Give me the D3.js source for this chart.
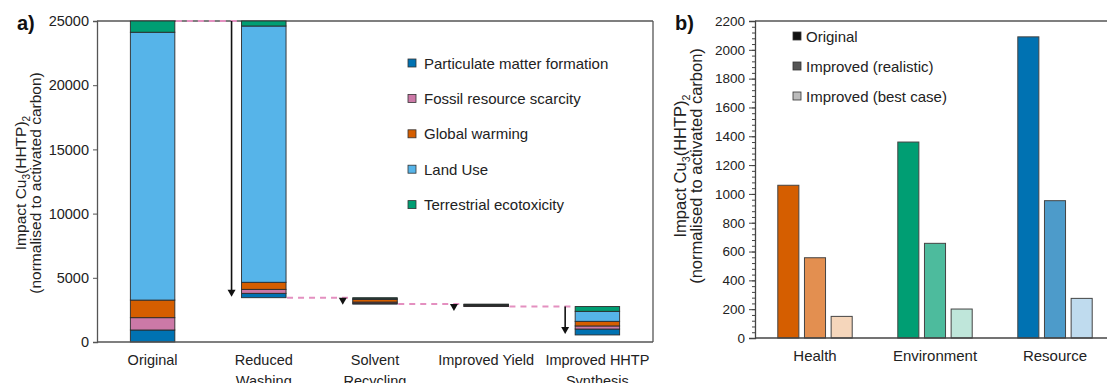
<!DOCTYPE html>
<html>
<head>
<meta charset="utf-8">
<script src="https://cdn.jsdelivr.net/npm/d3@7"></script>
<style>
  body { margin: 0; background: #fff; }
  svg { font-family: "Liberation Sans", Arial, sans-serif; display: block; }
</style>
</head>
<body>
<div id="chart"></div>
<script>
// ----- Data: panel a (waterfall of stacked impacts) -----
const steps = ["Original", "Reduced Washing", "Solvent Recycling", "Improved Yield", "Improved HHTP Synthesis"];
const stepLabels = [["Original"], ["Reduced", "Washing"], ["Solvent", "Recycling"], ["Improved Yield"], ["Improved HHTP", "Synthesis"]];
const impactCats = ["Particulate matter formation", "Fossil resource scarcity", "Global warming", "Land Use", "Terrestrial ecotoxicity"];
const stepBase = [0, 3450, 2950, 2760, 550];
const particulate = [935, 340, 70, 30, 460];
const fossil = [960, 310, 90, 30, 240];
const warming = [1370, 550, 200, 60, 360];
const landUse = [20860, 19960, 60, 40, 780];
const ecotox = [875, 390, 80, 30, 370];
const yTicksA = [0, 5000, 10000, 15000, 20000, 25000];

// ----- Data: panel b (grouped bars) -----
const groups = ["Health", "Environment", "Resource"];
const scenarios = ["Original", "Improved (realistic)", "Improved (best case)"];
const health = [1060, 557, 150];
const environment = [1360, 657, 201];
const resource = [2090, 953, 275];
const yTicksB = d3.range(0, 2201, 200);

const width = 1107;
const height = 383;
const svg = d3.select("#chart").append("svg")
  .attr("width", width)
  .attr("height", height);

const catColors = ["#0072b2", "#cc79a7", "#d55e00", "#56b4e9", "#009e73"];
const groupColors = [
  ["#d55e00", "#e38f50", "#f5d6bb"],
  ["#009e73", "#4dbb9d", "#bfe6da"],
  ["#0072b2", "#4d9bca", "#bfdbee"]
];

function yLabel(g, x, y, size) {
  const t = g.append("text")
    .attr("transform", `translate(${x}, ${y}) rotate(-90)`)
    .attr("text-anchor", "middle")
    .attr("font-size", size)
    .attr("fill", "#222");
  t.append("tspan").attr("x", 0).attr("dy", 0).text("Impact Cu");
  t.append("tspan").attr("dy", 4).attr("font-size", size * 0.65).text("3");
  t.append("tspan").attr("dy", -4).text("(HHTP)");
  t.append("tspan").attr("dy", 4).attr("font-size", size * 0.65).text("2");
  t.append("tspan").attr("x", 0).attr("dy", size * 0.92 - 4 + 1).text("(normalised to activated carbon)");
}

// ===== Panel a =====
function panelA() {
  const left = 97, right = 653, top = 21, bottom = 342;
  const g = svg.append("g");

  const x = d3.scaleBand().domain(steps).range([left, right]);
  const y = d3.scaleLinear().domain([0, 25000]).range([bottom, top]);
  const barW = x.bandwidth() * 0.4;
  const barX = s => x(s) + (x.bandwidth() - barW) / 2;

  const series = [particulate, fossil, warming, landUse, ecotox];
  const rows = steps.map((s, i) => {
    let acc = stepBase[i];
    const segs = series.map((arr, k) => {
      const seg = { step: s, cat: k, y0: acc, y1: acc + arr[i] };
      acc += arr[i];
      return seg;
    });
    return { step: s, base: stepBase[i], top: acc, segs };
  });

  // frame
  g.append("line").attr("x1", left).attr("x2", right).attr("y1", top).attr("y2", top)
    .attr("stroke", "#555").attr("stroke-width", 1.3);
  g.append("line").attr("x1", right).attr("x2", right).attr("y1", top).attr("y2", bottom)
    .attr("stroke", "#555").attr("stroke-width", 1.3);

  // dashed connectors
  for (let i = 0; i < rows.length - 1; i++) {
    const level = rows[i + 1].top;
    g.append("line")
      .attr("x1", barX(steps[i]) + barW + 1).attr("x2", barX(steps[i + 1]) - 1)
      .attr("y1", y(level)).attr("y2", y(level))
      .attr("stroke", "#e490c0").attr("stroke-width", 2)
      .attr("stroke-dasharray", "6,5");
  }

  // stacked bars
  g.selectAll(".seg")
    .data(rows.flatMap(r => r.segs))
    .enter().append("rect")
    .attr("class", "seg")
    .attr("x", d => barX(d.step))
    .attr("width", barW)
    .attr("y", d => y(d.y1))
    .attr("height", d => Math.max(0, y(d.y0) - y(d.y1)))
    .attr("fill", d => catColors[d.cat])
    .attr("stroke", "#2b2b2b")
    .attr("stroke-width", 0.9);

  // arrows showing the reduction
  rows.slice(1).forEach(r => {
    const ax = barX(r.step) - 10;
    const yTop = y(r.top);
    const yTip = y(r.base) - 1;
    const head = 7;
    if (yTip - head > yTop) {
      g.append("line").attr("x1", ax).attr("x2", ax)
        .attr("y1", yTop).attr("y2", yTip - head + 1)
        .attr("stroke", "#111").attr("stroke-width", 1.6);
    }
    const hy = Math.max(yTip, yTop + head);
    g.append("path")
      .attr("d", `M${ax - 4},${hy - head} L${ax + 4},${hy - head} L${ax},${hy} Z`)
      .attr("fill", "#111");
  });

  // axes
  const yAxis = g.append("g")
    .attr("transform", `translate(${left},0)`)
    .call(d3.axisLeft(y).tickValues(yTicksA).tickSize(4).tickPadding(4).tickFormat(d3.format("d")));
  yAxis.select(".domain").attr("stroke", "#555").attr("stroke-width", 1.3);
  yAxis.selectAll(".tick line").attr("stroke", "#555");
  yAxis.selectAll("text").attr("font-size", 14.5).attr("fill", "#222")
    .attr("font-family", "Liberation Sans, Arial, sans-serif");

  g.append("line").attr("x1", left).attr("x2", right).attr("y1", bottom).attr("y2", bottom)
    .attr("stroke", "#555").attr("stroke-width", 1.3);

  // category labels
  steps.forEach((s, i) => {
    const t = g.append("text")
      .attr("x", x(s) + x.bandwidth() / 2)
      .attr("y", 365)
      .attr("text-anchor", "middle")
      .attr("font-size", 14.5)
      .attr("fill", "#222");
    stepLabels[i].forEach((line, j) => {
      t.append("tspan").attr("x", x(s) + x.bandwidth() / 2).attr("dy", j === 0 ? 0 : 20.5).text(line);
    });
  });

  // legend
  const legend = g.append("g").attr("transform", "translate(408, 63)");
  const items = legend.selectAll(".legend-item")
    .data(impactCats)
    .enter().append("g")
    .attr("class", "legend-item")
    .attr("transform", (d, i) => `translate(0, ${i * 35.4})`);
  items.append("rect")
    .attr("x", 0).attr("y", -4).attr("width", 8).attr("height", 8)
    .attr("fill", (d, i) => catColors[i])
    .attr("stroke", "#333").attr("stroke-width", 0.8);
  items.append("text")
    .attr("x", 16).attr("y", 5.5)
    .attr("font-size", 15).attr("fill", "#222")
    .text(d => d);

  yLabel(g, 26, 183, 15.5);

  svg.append("text").attr("x", 17).attr("y", 29.5)
    .attr("font-size", 20).attr("font-weight", "bold").attr("fill", "#111").text("a)");
}

// ===== Panel b =====
function panelB() {
  const left = 755, right = 1115, top = 21, bottom = 338;
  const g = svg.append("g");

  const x = d3.scaleBand().domain(groups).range([left, right]);
  const xs = d3.scaleBand().domain(scenarios).range([0, 74.4]).paddingInner(0.21);
  const y = d3.scaleLinear().domain([0, 2200]).range([bottom, top]);
  const values = [health, environment, resource];

  g.append("line").attr("x1", left).attr("x2", width).attr("y1", top).attr("y2", top)
    .attr("stroke", "#555").attr("stroke-width", 1.3);

  const bars = groups.flatMap((grp, gi) =>
    scenarios.map((sc, si) => ({ grp, gi, sc, si, v: values[gi][si] })));

  g.selectAll(".bar")
    .data(bars)
    .enter().append("rect")
    .attr("class", "bar")
    .attr("x", d => x(d.grp) + x.bandwidth() / 2 - 37.2 + xs(d.sc))
    .attr("width", xs.bandwidth())
    .attr("y", d => y(d.v))
    .attr("height", d => y(0) - y(d.v))
    .attr("fill", d => groupColors[d.gi][d.si])
    .attr("stroke", "#444")
    .attr("stroke-width", 1);

  // minor ticks
  const minor = g.append("g")
    .attr("transform", `translate(${left},0)`)
    .call(d3.axisLeft(y).tickValues(d3.range(0, 2201, 40)).tickSize(3).tickFormat(""));
  minor.select(".domain").remove();
  minor.selectAll(".tick line").attr("stroke", "#444");

  const yAxis = g.append("g")
    .attr("transform", `translate(${left},0)`)
    .call(d3.axisLeft(y).tickValues(yTicksB).tickSize(6).tickPadding(4).tickFormat(d3.format("d")));
  yAxis.select(".domain").attr("stroke", "#444").attr("stroke-width", 1.3);
  yAxis.selectAll(".tick line").attr("stroke", "#444");
  yAxis.selectAll("text").attr("font-size", 13.5).attr("fill", "#222")
    .attr("font-family", "Liberation Sans, Arial, sans-serif");

  g.append("line").attr("x1", left).attr("x2", width).attr("y1", bottom).attr("y2", bottom)
    .attr("stroke", "#444").attr("stroke-width", 1.3);

  g.selectAll(".grp-label")
    .data(groups)
    .enter().append("text")
    .attr("class", "grp-label")
    .attr("x", d => x(d) + x.bandwidth() / 2)
    .attr("y", 361)
    .attr("text-anchor", "middle")
    .attr("font-size", 15)
    .attr("fill", "#222")
    .text(d => d);

  // legend
  const legColors = ["#111", "#555", "#bbb"];
  const legend = g.append("g").attr("transform", "translate(793, 36)");
  const items = legend.selectAll(".legend-item")
    .data(scenarios)
    .enter().append("g")
    .attr("class", "legend-item")
    .attr("transform", (d, i) => `translate(0, ${i * 30})`);
  items.append("rect")
    .attr("x", 0).attr("y", -4).attr("width", 8).attr("height", 8)
    .attr("fill", (d, i) => legColors[i])
    .attr("stroke", "#333").attr("stroke-width", 0.8);
  items.append("text")
    .attr("x", 13).attr("y", 5.5)
    .attr("font-size", 15).attr("fill", "#222")
    .text(d => d);

  yLabel(g, 686, 166, 16.5);

  svg.append("text").attr("x", 675).attr("y", 29.5)
    .attr("font-size", 20).attr("font-weight", "bold").attr("fill", "#111").text("b)");
}

panelA();
panelB();
</script>
</body>
</html>
